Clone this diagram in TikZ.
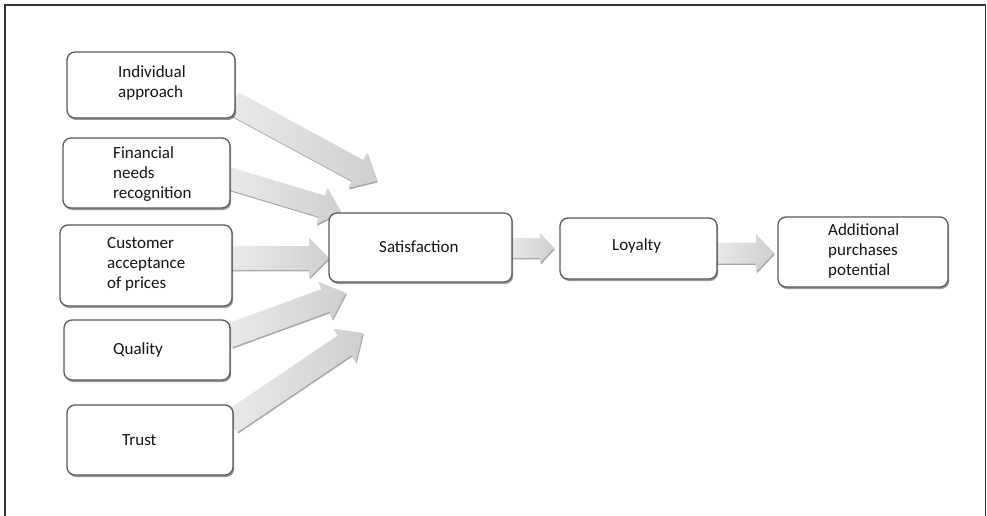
\documentclass[tikz,border=0pt]{standalone}
\usepackage{fontspec}
\setmainfont{Carlito}
\usetikzlibrary{calc,shadows}
\tikzset{
  box/.style={draw=black!65, line width=1.3pt, rounded corners=8pt, fill=white,
    inner sep=0pt, drop shadow={shadow xshift=1.2pt, shadow yshift=-2pt, fill=black, opacity=0.4}},
  txt/.style={anchor=north west, inner sep=0pt, align=left, text=black!92,
    font=\fontsize{17}{20}\selectfont},
  arrowfill/.style={left color=gray!16, right color=gray!38, draw=none,
    drop shadow={shadow xshift=0.8pt, shadow yshift=-1.4pt, fill=black, opacity=0.35}},
}
\newcommand\blockarr[6]{%
  \coordinate (#1h) at ($(#3)!#6!(#2)$);
  \path[arrowfill] ($(#2)!#4!90:(#3)$) -- ($(#1h)!#4!90:(#3)$) -- ($(#1h)!#5!90:(#3)$)
    -- (#3) -- ($(#1h)!#5!-90:(#3)$) -- ($(#1h)!#4!-90:(#3)$) -- ($(#2)!#4!-90:(#3)$) -- cycle;
}
\begin{document}
\begin{tikzpicture}[x=1pt, y=-1pt]
\useasboundingbox (0,0) rectangle (987,516);
\draw[line width=1.2pt, black!80] (5,516) -- (5,5) -- (985.5,5) -- (985.5,516);

% tails and tips
\coordinate (t1) at (233,103);  \coordinate (p1) at (377,181);
\coordinate (t2) at (228,178);  \coordinate (p2) at (341,212);
\coordinate (t3) at (230,258);  \coordinate (p3) at (329,258);
\coordinate (t4) at (228,336);  \coordinate (p4) at (346,293);
\coordinate (t5) at (231,422);  \coordinate (p5) at (363,333);
\coordinate (t6) at (508,248);  \coordinate (p6) at (554,248);
\coordinate (t7) at (713,253);  \coordinate (p7) at (774,253);

\blockarr{a1}{t1}{p1}{12pt}{20pt}{22pt}
\blockarr{a2}{t2}{p2}{11pt}{19pt}{20pt}
\blockarr{a3}{t3}{p3}{12pt}{20pt}{20pt}
\blockarr{a4}{t4}{p4}{12pt}{20pt}{22pt}
\blockarr{a5}{t5}{p5}{12pt}{20pt}{22pt}
\blockarr{a6}{t6}{p6}{10pt}{15pt}{14pt}
\blockarr{a7}{t7}{p7}{10.5pt}{19pt}{18pt}

% boxes
\node[box, minimum width=168pt, minimum height=66pt] (ia) at (151,85) {};
\node[box, minimum width=167pt, minimum height=70pt] (fn) at (146.5,173) {};
\node[box, minimum width=172pt, minimum height=81pt] (ca) at (146,265.5) {};
\node[box, minimum width=166pt, minimum height=60pt] (qu) at (147,350) {};
\node[box, minimum width=166pt, minimum height=70pt] (tr) at (150,440) {};
\node[box, minimum width=183pt, minimum height=69pt] (sa) at (420.5,247.5) {};
\node[box, minimum width=157pt, minimum height=61pt] (lo) at (638.5,248.5) {};
\node[box, minimum width=170pt, minimum height=70pt] (ad) at (863,252) {};

% texts
\node[txt] (iat) at (118,63) {\strut Individual\\\strut approach};
\node[txt] (fnt) at (113,144) {\strut Financial\\\strut needs\\\strut recognition};
\node[txt] (cat) at (107,234) {\strut Customer\\\strut acceptance\\\strut of prices};
\node[txt] (qut) at (113,340) {\strut Quality};
\node[txt] (trt) at (122,431) {\strut Trust};
\node[txt] (sat) at (379,238) {\strut Satisfaction};
\node[txt] (lot) at (612,236) {\strut Loyalty};
\node[txt] (adt) at (828,221) {\strut Additional\\\strut purchases\\\strut potential};
\end{tikzpicture}
\end{document}
